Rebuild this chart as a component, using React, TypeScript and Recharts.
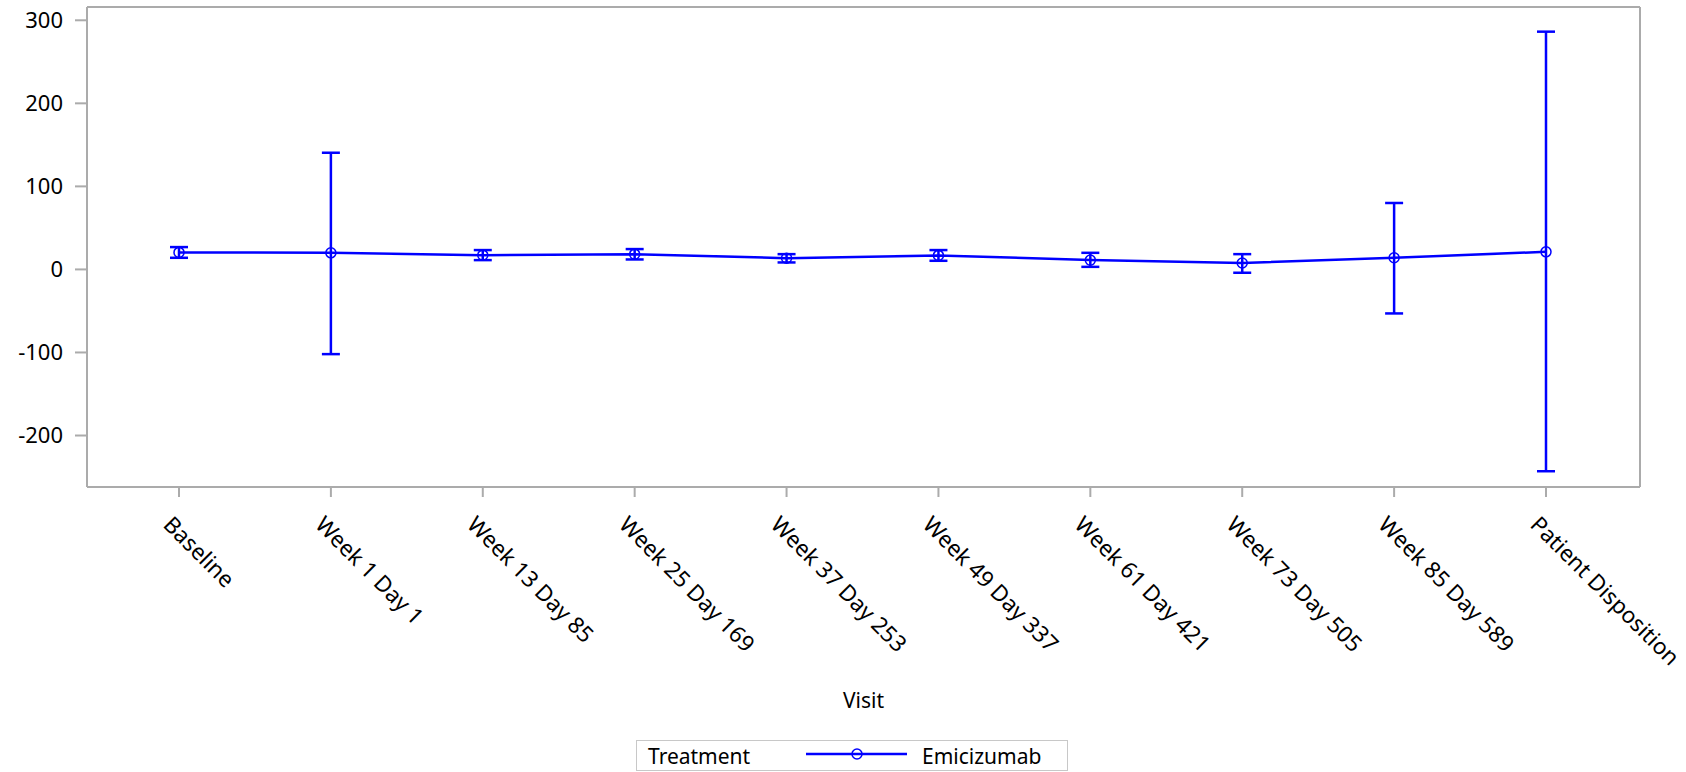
import React from 'react';
import { LineChart, Line, XAxis, YAxis, ErrorBar } from 'recharts';

const visits = [
  'Baseline',
  'Week 1 Day 1',
  'Week 13 Day 85',
  'Week 25 Day 169',
  'Week 37 Day 253',
  'Week 49 Day 337',
  'Week 61 Day 421',
  'Week 73 Day 505',
  'Week 85 Day 589',
  'Patient Disposition',
];
const means = [20.5, 20, 17.2, 18.4, 13.6, 16.9, 11.2, 7.8, 14, 21.2];
const lowers = [14, -102, 11.2, 12, 8.4, 10.4, 3.1, -4, -53, -243];
const uppers = [26.9, 140.5, 23.3, 24.5, 18.4, 23.3, 20, 18.4, 80, 286.3];
const yTicks = [-200, -100, 0, 100, 200, 300];

const BLUE = '#0000ff';
const FRAME = '#ababab';
const FONT = '"Noto Sans", sans-serif';

const data = visits.map((visit, i) => ({
  visit,
  mean: means[i],
  err: [means[i] - lowers[i], uppers[i] - means[i]],
}));

const VisitTick = ({ x, y, payload }: any) => {
  const ax = x - 17;
  const ay = y + 29;
  return (
    <text
      x={ax}
      y={ay}
      transform={`rotate(45, ${ax}, ${ay})`}
      textAnchor="start"
      fill="#000"
      fontSize={22.5}
      fontFamily={FONT}
    >
      {payload.value}
    </text>
  );
};

export default function App() {
  return (
    <div style={{ position: 'absolute', left: 0, top: 0, width: 1686, height: 772, background: '#fff' }}>
      <LineChart
        width={1686}
        height={772}
        data={data}
        margin={{ top: 6, right: 45, left: 0, bottom: 60 }}
      >
        <XAxis
          dataKey="visit"
          interval={0}
          padding={{ left: 92, right: 94 }}
          height={225}
          tickSize={10}
          tickMargin={0}
          stroke={FRAME}
          strokeWidth={2}
          tick={<VisitTick />}
          label={{ value: 'Visit', position: 'insideBottom', offset: 4, fill: '#000', fontSize: 21, fontFamily: FONT }}
        />
        <XAxis xAxisId="top" orientation="top" height={1} tick={false} tickLine={false} stroke={FRAME} strokeWidth={2} />
        <YAxis
          width={87}
          domain={[-262, 316]}
          ticks={yTicks}
          allowDataOverflow
          tickSize={12}
          tickMargin={12}
          stroke={FRAME}
          strokeWidth={2}
          tick={{ fill: '#000', fontSize: 22, fontFamily: FONT }}
        />
        <YAxis yAxisId="right" orientation="right" width={1} domain={[0, 1]} tick={false} tickLine={false} stroke={FRAME} strokeWidth={2} />
        <Line
          type="linear"
          dataKey="mean"
          stroke={BLUE}
          strokeWidth={2.5}
          dot={{ r: 5, fill: 'none', stroke: BLUE, strokeWidth: 1.5 }}
          activeDot={false}
          isAnimationActive={false}
        >
          <ErrorBar dataKey="err" direction="y" width={9} stroke={BLUE} strokeWidth={2.5} isAnimationActive={false} />
        </Line>
      </LineChart>
      <div
        style={{
          position: 'absolute',
          left: 636,
          top: 740,
          width: 430,
          height: 29,
          border: '1px solid #c8c8c8',
          fontFamily: FONT,
          fontSize: 21,
          color: '#000',
        }}
      >
        <span style={{ position: 'absolute', left: 11, top: 1, lineHeight: '28px' }}>Treatment</span>
        <svg style={{ position: 'absolute', left: 168, top: 0 }} width={104} height={29}>
          <line x1={1} y1={13} x2={102} y2={13} stroke={BLUE} strokeWidth={2.5} />
          <circle cx={52} cy={13} r={5} fill="none" stroke={BLUE} strokeWidth={1.5} />
        </svg>
        <span style={{ position: 'absolute', left: 285, top: 1, lineHeight: '28px' }}>Emicizumab</span>
      </div>
    </div>
  );
}
